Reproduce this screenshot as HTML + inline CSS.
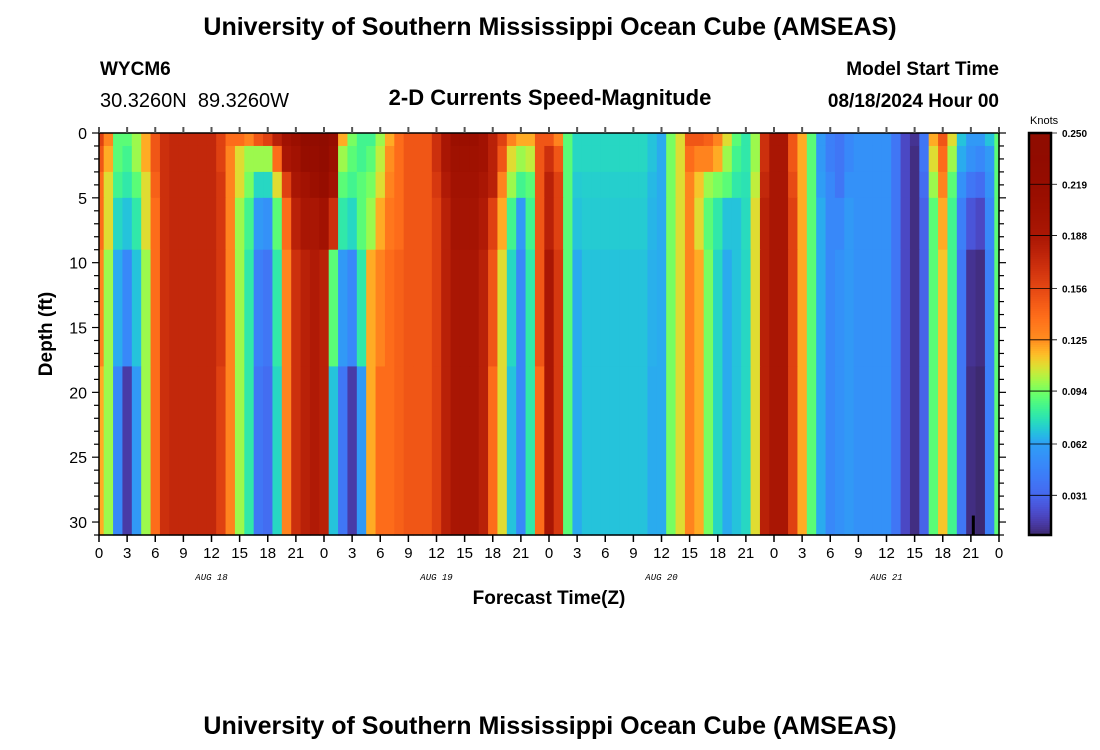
<!DOCTYPE html>
<html><head><meta charset="utf-8">
<style>
body{margin:0;background:#fff;}
svg{display:block;font-family:"Liberation Sans",sans-serif;}
</style></head>
<body>
<svg id="chart" width="1100" height="750" viewBox="0 0 1100 750">
<text x="550" y="35" text-anchor="middle" font-size="25" font-weight="bold">University of Southern Mississippi Ocean Cube (AMSEAS)</text>
<text x="100" y="75" font-size="19" font-weight="bold">WYCM6</text>
<text x="100" y="107" font-size="20">30.3260N&#160;&#160;89.3260W</text>
<text x="550" y="105" text-anchor="middle" font-size="22" font-weight="bold">2-D Currents Speed-Magnitude</text>
<text x="999" y="75" text-anchor="end" font-size="19" font-weight="bold">Model Start Time</text>
<text x="999" y="107" text-anchor="end" font-size="19" font-weight="bold">08/18/2024 Hour 00</text>
<g id="cells"></g>
<g id="axes"></g>
<g id="cbar"></g>
<text x="549" y="604" text-anchor="middle" font-size="19" font-weight="bold">Forecast Time(Z)</text>
<text transform="translate(52,334) rotate(-90)" text-anchor="middle" font-size="19" font-weight="bold">Depth (ft)</text>
<text x="1030" y="124" font-size="11">Knots</text>
<text x="550" y="734" text-anchor="middle" font-size="25" font-weight="bold">University of Southern Mississippi Ocean Cube (AMSEAS)</text>
</svg>
<script>
// forecast hours 0..96, depth bands (ft)
const bandTop = [0,1,3,5,9,18];
const bandBottom = [1,3,5,9,18,31];
const s0 = [.16,.13,.09,.09,.10,.12,.15,.17,.175,.175,.175,.175,.175,.16,.14,.14,.13,.15,.16,.18,.20,.21,.23,.23,.245,.22,.12,.095,.085,.085,.10,.12,.14,.15,.15,.15,.17,.19,.21,.21,.21,.20,.18,.16,.13,.12,.12,.15,.15,.13,.09,.075,.075,.075,.075,.075,.075,.075,.075,.07,.065,.095,.11,.15,.15,.145,.13,.11,.09,.08,.10,.17,.19,.19,.15,.12,.09,.06,.045,.04,.05,.055,.055,.055,.055,.04,.02,.012,.04,.12,.15,.11,.07,.06,.06,.07,.09];
const s1 = [.15,.12,.09,.085,.10,.12,.15,.17,.175,.175,.175,.175,.175,.16,.13,.11,.10,.10,.10,.14,.19,.20,.22,.22,.23,.21,.10,.09,.085,.09,.105,.125,.14,.15,.15,.15,.17,.19,.205,.205,.205,.20,.18,.15,.11,.10,.105,.15,.17,.15,.09,.075,.075,.075,.075,.075,.075,.075,.075,.07,.065,.095,.11,.14,.13,.13,.12,.10,.085,.08,.10,.17,.19,.19,.15,.12,.09,.06,.045,.04,.05,.055,.055,.055,.055,.04,.02,.01,.04,.11,.14,.10,.065,.055,.05,.06,.09];
const s3 = [.14,.11,.085,.08,.09,.11,.145,.17,.175,.175,.175,.175,.175,.165,.13,.11,.095,.075,.075,.11,.16,.19,.20,.21,.22,.20,.09,.085,.09,.095,.11,.13,.14,.15,.15,.15,.165,.185,.20,.20,.20,.19,.18,.13,.10,.085,.09,.15,.18,.16,.09,.072,.073,.073,.073,.073,.073,.073,.073,.068,.065,.095,.11,.13,.115,.10,.095,.09,.08,.078,.105,.175,.19,.19,.155,.12,.09,.062,.05,.04,.055,.055,.055,.055,.055,.04,.02,.01,.035,.10,.13,.09,.055,.04,.035,.055,.09];
const s5 = [.14,.11,.075,.07,.08,.11,.14,.17,.175,.175,.175,.175,.175,.165,.13,.10,.085,.06,.055,.09,.14,.18,.19,.19,.20,.17,.08,.075,.09,.10,.12,.135,.14,.15,.15,.15,.16,.18,.195,.195,.195,.185,.16,.12,.085,.06,.085,.15,.18,.16,.09,.07,.072,.072,.072,.072,.072,.072,.072,.067,.065,.095,.11,.13,.11,.09,.08,.07,.07,.076,.11,.18,.19,.19,.16,.12,.09,.065,.05,.05,.06,.055,.055,.055,.055,.04,.02,.01,.03,.09,.12,.085,.045,.025,.02,.05,.09];
const s9 = [.13,.10,.065,.05,.07,.10,.14,.17,.175,.175,.175,.175,.175,.165,.13,.10,.08,.045,.04,.08,.13,.17,.18,.185,.18,.09,.06,.05,.08,.12,.13,.14,.145,.15,.15,.15,.16,.18,.19,.19,.19,.18,.15,.11,.075,.05,.08,.15,.19,.165,.09,.065,.07,.07,.07,.07,.07,.07,.07,.066,.065,.095,.11,.13,.12,.095,.075,.065,.07,.075,.11,.18,.19,.19,.16,.12,.09,.065,.05,.055,.06,.055,.055,.055,.055,.04,.02,.01,.03,.09,.115,.085,.04,.012,.01,.045,.09];
const s18 = [.12,.10,.05,.015,.06,.10,.14,.17,.175,.175,.175,.175,.175,.16,.13,.10,.08,.04,.035,.075,.13,.17,.18,.185,.18,.07,.04,.015,.06,.12,.14,.14,.145,.15,.15,.15,.16,.18,.19,.19,.19,.18,.14,.11,.07,.05,.08,.14,.19,.165,.09,.065,.07,.07,.07,.07,.07,.07,.07,.065,.065,.095,.11,.13,.12,.095,.075,.065,.07,.075,.11,.18,.19,.19,.16,.12,.09,.065,.05,.055,.06,.055,.055,.055,.055,.04,.02,.01,.03,.09,.115,.085,.04,.01,.008,.045,.09];
const bands = [s0,s1,s3,s5,s9,s18];
const xTicks = [0,3,6,9,12,15,18,21,0,3,6,9,12,15,18,21,0,3,6,9,12,15,18,21,0,3,6,9,12,15,18,21,0];
const yTicks = [0,5,10,15,20,25,30];
const dayLabels = ["AUG 18","AUG 19","AUG 20","AUG 21"];
const cbTicks = [0.250,0.219,0.188,0.156,0.125,0.094,0.062,0.031];

const NS="http://www.w3.org/2000/svg";
const X0=99,X1=999,Y0=133,Y1=535,HMAX=96,DMAX=31;
const xs=h=>X0+h*(X1-X0)/HMAX;
const ys=d=>Y0+d*(Y1-Y0)/DMAX;
function turbo(t){t=Math.max(0,Math.min(1,t));
 const r=0.13572138+t*(4.61539260+t*(-42.66032258+t*(132.13108234+t*(-152.94239396+t*59.28637943))));
 const g=0.09140261+t*(2.19418839+t*(4.84296658+t*(-14.18503333+t*(4.27729857+t*2.82956604))));
 const b=0.10667330+t*(12.64194608+t*(-60.58204836+t*(110.36276771+t*(-89.90310912+t*27.34824973))));
 const c=v=>Math.round(Math.max(0,Math.min(1,v))*255);
 return `rgb(${c(r)},${c(g)},${c(b)})`;}
const VMAX=0.25;
// colour-scale warp (scale position -> turbo position)
const warpIn=[0,.125,.25,.375,.44,.5,.625,.75,1];
const warpOut=[0,.12,.2,.45,.6,.73,.83,.92,1];
function warp(t){t=Math.max(0,Math.min(1,t));for(let i=1;i<warpIn.length;i++){if(t<=warpIn[i]){const f=(t-warpIn[i-1])/(warpIn[i]-warpIn[i-1]);return warpOut[i-1]+f*(warpOut[i]-warpOut[i-1]);}}return 1;}
const col=v=>turbo(warp(v/VMAX));
function mk(tag,attrs,parent){const e=document.createElementNS(NS,tag);for(const k in attrs)e.setAttribute(k,attrs[k]);parent.appendChild(e);return e;}

const cells=document.getElementById('cells');
bands.forEach((arr,bi)=>{arr.forEach((v,h)=>{
 const xa=Math.max(X0,xs(h-0.5)),xb=Math.min(X1,xs(h+0.5));
 const r=mk('rect',{x:xa,y:ys(bandTop[bi]),width:xb-xa+0.6,height:ys(bandBottom[bi])-ys(bandTop[bi])+0.6,fill:col(v)},cells);
 
 
});});
const mark=mk('rect',{x:xs(93.1),y:ys(29.5),width:3,height:ys(31)-ys(29.5),fill:'#000'},cells);



const ax=document.getElementById('axes');
const fr=mk('rect',{x:X0,y:Y0,width:X1-X0,height:Y1-Y0,fill:'none',stroke:'#000','stroke-width':1.5},ax);


xTicks.forEach((lab,i)=>{const h=i*3,x=xs(h);
 mk('line',{x1:x,y1:Y1,x2:x,y2:Y1+7,stroke:'#000','stroke-width':1.5},ax);
 mk('line',{x1:x,y1:Y0,x2:x,y2:Y0-6,stroke:'#555','stroke-width':2},ax);
 const t=mk('text',{x:x,y:Y1+23,'text-anchor':'middle','font-size':15},ax);t.textContent=lab;
 
 
});
dayLabels.forEach((d,i)=>{const t=mk('text',{x:xs(12+24*i),y:580,'text-anchor':'middle','font-size':9,'font-style':'italic','font-family':'Liberation Mono, monospace'},ax);t.textContent=d;
 
 
});
for(let d=0;d<=DMAX;d++){const y=ys(d),L=d%5===0?7:5;
 mk('line',{x1:X0-L,y1:y,x2:X0,y2:y,stroke:'#000','stroke-width':1.2},ax);
 mk('line',{x1:X1,y1:y,x2:X1+L,y2:y,stroke:'#000','stroke-width':1.2},ax);}
yTicks.forEach(d=>{const t=mk('text',{x:X0-12,y:ys(d)+6,'text-anchor':'end','font-size':16},ax);t.textContent=d;
 
 
});

const cb=document.getElementById('cbar');
const CX=1029,CW=22,CSTEP=51.7;
const cy=v=>Y0+(0.25-v)/0.03125*CSTEP;
for(let y=Y0;y<Y1;y+=2){const v=0.25-(y-Y0)/CSTEP*0.03125;mk('rect',{x:CX,y:y,width:CW,height:2.5,fill:col(v)},cb);}
const cf=mk('rect',{x:CX,y:Y0,width:CW,height:Y1-Y0,fill:'none',stroke:'#000','stroke-width':2.5},cb);


cbTicks.forEach(v=>{const y=cy(v);
 mk('line',{x1:CX,y1:y,x2:CX+CW+6,y2:y,stroke:'#000','stroke-width':0.8},cb);
 const t=mk('text',{x:1062,y:y+4,'font-size':10,'font-weight':'bold'},cb);t.textContent=v.toFixed(3);
 
 
});
</script>
</body></html>
